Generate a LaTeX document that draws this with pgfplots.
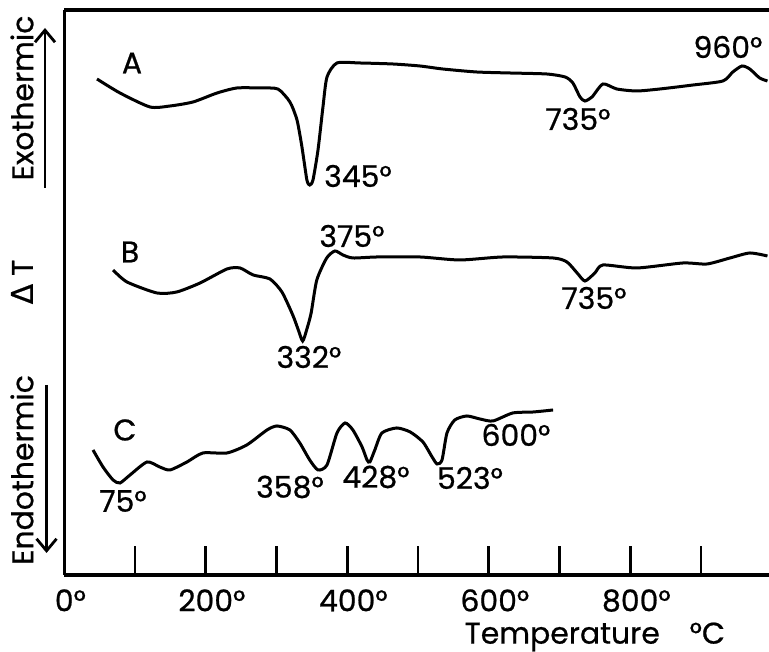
\documentclass[border=0pt]{standalone}
\usepackage{fontspec}
\setmainfont{Poppins}[FakeBold=0.7]
\newfontfamily\dejavu{DejaVu Sans}[FakeBold=0.7]
\usepackage{pgfplots}
\pgfplotsset{compat=1.18}
\usetikzlibrary{arrows.meta}

\begin{document}
\begin{tikzpicture}
\fontsize{15}{18}\selectfont
\begin{axis}[
    scale only axis,
    width=352.4bp, height=282.5bp,
    xmin=0, xmax=996.2, ymin=0, ymax=565,
    axis x line=bottom, axis y line=left,
    axis line style={-, line width=1.7bp, black},
    xtick={0,100,...,900},
    xticklabels={0\rlap{°},,200\rlap{°},,400\rlap{°},,600\rlap{°},,800\rlap{°},},
    ytick=\empty,
    tick align=inside,
    major tick length=14.5bp,
    tick style={line width=1.4bp, black},
    xticklabel style={yshift=-2bp},
    clip=false,
]
    % curve A
    \addplot[black, line width=1.5bp, smooth, tension=0.4] coordinates {
        (46.3,496) (78.8,482) (121.2,468) (149.5,469) (182,473) (216,482) (244,487)
        (276.7,487) (302,486) (319,473) (329,455) (336,428) (343,395) (347,390)
        (351.6,395) (358.7,425) (365.7,468) (371.4,498) (385.5,512) (418,512)
        (464.7,511) (502.8,509) (535,506) (583,503) (630,502) (682,501) (708,498)
        (719,492) (729,478) (736,474) (746,478) (761.5,491) (781,486) (809,484)
        (842,486) (889,490) (931,494) (945,503) (958,509) (969,506) (983,497) (994,494)
    };
    % curve B
    \addplot[black, line width=1.5bp, smooth, tension=0.4] coordinates {
        (69,305) (88.7,293) (131,282) (159,283) (192,292) (230,306) (248.5,307)
        (267,300) (290.8,296) (307.7,283) (323,260) (330.4,246) (337,234) (343,246)
        (349,262) (357,295) (371,317) (382.7,324) (394,320) (408,317) (442,318)
        (503,318) (559,315) (620,318) (691,317) (710.6,313) (725,302) (736,294)
        (750,302) (761.5,310) (809.5,307) (874.5,312) (908.5,311) (941,317)
        (969,322) (994,319)
    };
    % curve C
    \addplot[black, line width=1.5bp, smooth, tension=0.4] coordinates {
        (40.7,125) (54.8,108) (69,95) (78.8,92) (93,100) (117,113) (135,108)
        (149.5,105) (173.5,113) (196,122) (230,122) (258,130) (286.6,145)
        (300.7,149) (319,145) (333,132) (347,115) (358.7,105) (371.4,110)
        (385.5,142) (397,152) (408,145) (421,128) (428,115) (432,113) (439,125)
        (449,142) (470,147) (489,143) (507,133) (520,118) (527,111) (534,115)
        (541,142) (552,155) (569,159) (587.6,156) (606,154) (634,162) (663,163)
        (691,165)
    };

    \node at (axis cs:95.8,512) {A};
    \node at (axis cs:93,323) {B};
    \node at (axis cs:85.8,145) {C};
    \node at (axis cs:415.2,399) {345°};
    \node at (axis cs:726.1,456) {735°};
    \node at (axis cs:938.1,528) {960°};
    \node at (axis cs:406.7,339) {375°};
    \node at (axis cs:748.8,277) {735°};
    \node at (axis cs:345.9,218) {332°};
    \node at (axis cs:83,74) {75°};
    \node at (axis cs:319.1,88) {358°};
    \node at (axis cs:440.6,98) {428°};
    \node at (axis cs:573.5,97) {523°};
    \node at (axis cs:638.5,140) {600°};

    \node at (axis cs:750,-62) {Temperature\quad °C};

    \node[rotate=90] at (axis cs:-59.7,477) {Exothermic};
    \node[rotate=90] at (axis cs:-59.7,293) {{\dejavu Δ} T};
    \node[rotate=90] at (axis cs:-59.7,105) {Endothermic};
    \draw[line width=1.4bp, -{Straight Barb[length=6bp, width=10bp]}]
        (axis cs:-27.2,387) -- (axis cs:-27.2,547);
    \draw[line width=1.4bp, -{Straight Barb[length=6bp, width=10bp]}]
        (axis cs:-25,190) -- (axis cs:-25,22);

    % top frame line
    \draw[line width=1.7bp] (rel axis cs:0,1) -- (rel axis cs:1,1);

    \coordinate (bbA) at (axis cs:-90.8,-77);
    \coordinate (bbB) at (axis cs:996.2,575);
\end{axis}
\pgfresetboundingbox
\path[use as bounding box] (bbA) rectangle (bbB);
\end{tikzpicture}
\end{document}
